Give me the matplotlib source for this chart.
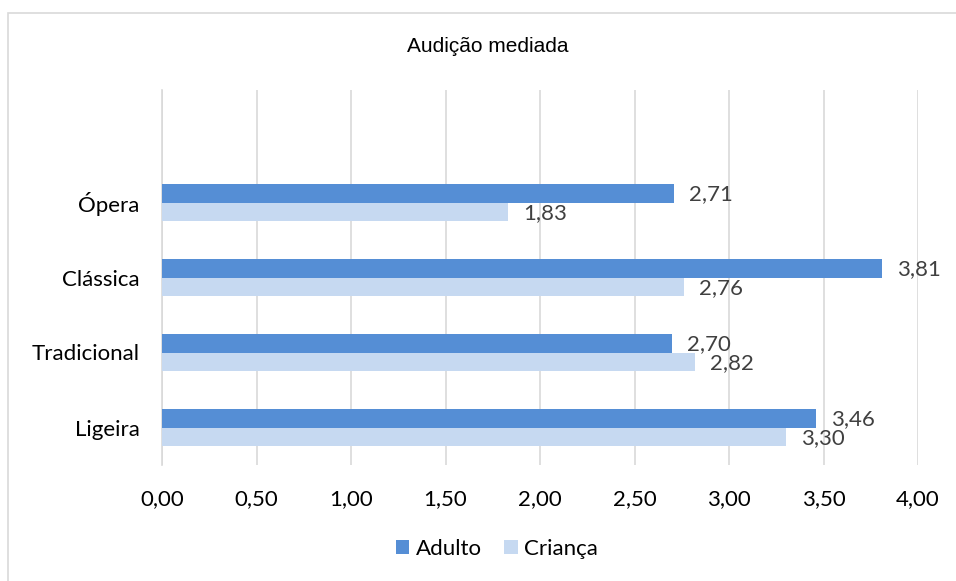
import matplotlib.pyplot as plt
import numpy as np
from matplotlib.patches import Rectangle

categorias = ["Ligeira", "Tradicional", "Clássica", "Ópera"]
adulto = [3.46, 2.70, 3.81, 2.71]
crianca = [3.30, 2.82, 2.76, 1.83]
xticks = [0, 0.5, 1.0, 1.5, 2.0, 2.5, 3.0, 3.5, 4.0]

cor_adulto = "#558ED5"
cor_crianca = "#C6D9F1"

plt.rcParams['font.family'] = ['Lato', 'DejaVu Sans']

fig = plt.figure(figsize=(9.56, 5.81), dpi=100)
ax = fig.add_axes([162/956, 1-465/581, (918-162)/956, (465-90)/581])

# moldura exterior
fig.patches.append(Rectangle((8/956, -0.05), 1.2, 1.05-13/581, transform=fig.transFigure,
                             fill=False, edgecolor="#D9D9D9", linewidth=1.2))

y = np.arange(len(categorias))
h = 0.253
ax.barh(y + h/2, adulto, height=h, color=cor_adulto, label="Adulto", zorder=3)
ax.barh(y - h/2, crianca, height=h, color=cor_crianca, label="Criança", zorder=3)

for i in range(len(categorias)):
    ax.text(adulto[i] + 0.08, y[i] + h/2 - 0.02, f"{adulto[i]:.2f}".replace(".", ","),
            va="center", ha="left", fontsize=16, color="#404040")
    ax.text(crianca[i] + 0.08, y[i] - h/2 - 0.02, f"{crianca[i]:.2f}".replace(".", ","),
            va="center", ha="left", fontsize=16, color="#404040")

ax.set_xlim(0, 4)
ax.set_ylim(-0.5, 4.5)
ax.set_yticks(y)
ax.set_yticklabels(categorias, fontsize=16)
ax.set_xticks(xticks)
ax.set_xticklabels([f"{v:.2f}".replace(".", ",") for v in xticks], fontsize=16)
ax.tick_params(axis="y", length=0, pad=16)
ax.tick_params(axis="x", length=0, pad=17)
ax.grid(axis="x", color="#D9D9D9", linewidth=1.2, zorder=0)
for s in ["top", "right", "bottom"]:
    ax.spines[s].set_visible(False)
ax.spines["left"].set_color("#D9D9D9")
ax.spines["left"].set_linewidth(1.2)

fig.text(488/956, 1-46/581, "Audição mediada", ha="center", va="center",
         fontsize=15, family=["Liberation Sans", "DejaVu Sans"])

fig.legend(loc="center", bbox_to_anchor=(497/956, 1-549/581), ncol=2, frameon=False,
           fontsize=16, handlelength=0.6, handleheight=0.6, columnspacing=1.0,
           handletextpad=0.3)

fig.savefig("out.png", dpi=100)
